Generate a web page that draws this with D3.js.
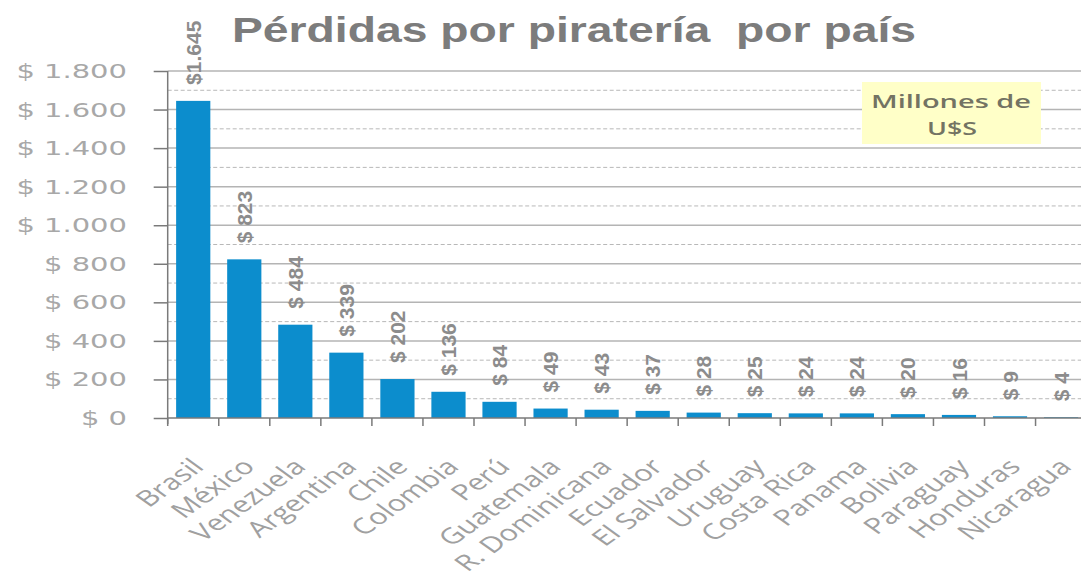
<!DOCTYPE html>
<html>
<head>
<meta charset="utf-8">
<script src="https://cdn.jsdelivr.net/npm/d3@7"></script>
<style>
  html, body { margin: 0; padding: 0; background: #ffffff; }
  svg { display: block; }
</style>
</head>
<body>
<svg id="chart" width="1081" height="574"></svg>
<script>
// ---- DATA ----
const countries = ["Brasil", "México", "Venezuela", "Argentina", "Chile", "Colombia", "Perú",
  "Guatemala", "R. Dominicana", "Ecuador", "El Salvador", "Uruguay", "Costa Rica", "Panama",
  "Bolivia", "Paraguay", "Honduras", "Nicaragua"];
const losses = [1645, 823, 484, 339, 202, 136, 84, 49, 43, 37, 28, 25, 24, 24, 20, 16, 9, 4];
const barLabels = ["$1.645", "$ 823", "$ 484", "$ 339", "$ 202", "$ 136", "$ 84", "$ 49", "$ 43",
  "$ 37", "$ 28", "$ 25", "$ 24", "$ 24", "$ 20", "$ 16", "$ 9", "$ 4"];
const yTickValues = [0, 200, 400, 600, 800, 1000, 1200, 1400, 1600, 1800];
const yTickLabels = ["$ 0", "$ 200", "$ 400", "$ 600", "$ 800", "$ 1.000", "$ 1.200", "$ 1.400", "$ 1.600", "$ 1.800"];
const yMinorValues = [100, 300, 500, 700, 900, 1100, 1300, 1500, 1700];
const titleText = "Pérdidas por piratería  por país";
const noteLines = ["Millones de", "U$S"];

(function () {
// ---- LAYOUT ----
const svg = d3.select("#chart");
const plotLeft = 167.7, plotTop = 71, plotBottom = 418;
const step = 51.05;
const plotRight = plotLeft + step * countries.length;
const viewRight = 1081;

const x = d3.scaleBand().domain(countries).range([plotLeft, plotRight]).paddingInner(0.33).paddingOuter(0.165);
const y = d3.scaleLinear().domain([0, 1800]).range([plotBottom, plotTop]);

// minor dashed gridlines
svg.append("g").selectAll("line").data(yMinorValues).join("line")
  .attr("x1", plotLeft).attr("x2", viewRight)
  .attr("y1", d => y(d)).attr("y2", d => y(d))
  .attr("stroke", "#b8b8b8").attr("stroke-width", 1).attr("stroke-dasharray", "4,2.5");

// major solid gridlines
svg.append("g").selectAll("line").data(yTickValues.filter(d => d > 0)).join("line")
  .attr("x1", plotLeft).attr("x2", viewRight)
  .attr("y1", d => y(d)).attr("y2", d => y(d))
  .attr("stroke", "#b4b4b4").attr("stroke-width", 1.5);

// note box
const noteG = svg.append("g");
noteG.append("rect").attr("x", 862).attr("y", 82).attr("width", 179).attr("height", 62)
  .attr("fill", "#ffffc8");
noteG.append("text").attr("x", 951).attr("y", 108).attr("text-anchor", "middle")
  .attr("font-family", "'Open Sans', sans-serif").attr("font-weight", 600).attr("font-size", 18)
  .attr("fill", "#737363").attr("textLength", 160).attr("lengthAdjust", "spacingAndGlyphs")
  .text(noteLines[0]);
noteG.append("text").attr("x", 952).attr("y", 135).attr("text-anchor", "middle")
  .attr("font-family", "'Open Sans', sans-serif").attr("font-weight", 600).attr("font-size", 18)
  .attr("fill", "#737363").attr("textLength", 50).attr("lengthAdjust", "spacingAndGlyphs")
  .text(noteLines[1]);

// bars
svg.append("g").selectAll("rect").data(countries).join("rect")
  .attr("x", d => x(d)).attr("width", x.bandwidth())
  .attr("y", (d, i) => y(losses[i])).attr("height", (d, i) => y(0) - y(losses[i]))
  .attr("fill", "#0c8dcd");

// bar value labels
svg.append("g").selectAll("text").data(countries).join("text")
  .attr("transform", (d, i) => `translate(${x(d) + x.bandwidth() / 2},${y(losses[i]) - 16}) rotate(-90)`)
  .attr("dy", "0.36em")
  .attr("text-anchor", "start")
  .attr("font-family", "'Liberation Sans', Arial, sans-serif").attr("font-weight", "bold")
  .attr("font-size", 21).attr("fill", "#8c8c8c")
  .text((d, i) => barLabels[i]);

// y axis
const yAxis = d3.axisLeft(y).tickValues(yTickValues).tickSize(14).tickSizeOuter(0)
  .tickFormat((d, i) => yTickLabels[i]);
const yg = svg.append("g").attr("transform", `translate(${plotLeft},0)`).call(yAxis);
yg.select(".domain").remove();
yg.selectAll(".tick line").attr("stroke", "#7a7a7a").attr("stroke-width", 1.5);
yg.selectAll(".tick text").remove();
yg.append("line").attr("x1", 0).attr("x2", 0).attr("y1", plotTop).attr("y2", plotBottom + 6)
  .attr("stroke", "#7a7a7a").attr("stroke-width", 1.5);

svg.append("g").selectAll("text").data(yTickValues).join("text")
  .attr("transform", d => `translate(127,${y(d) + 7}) scale(1.45,1)`)
  .attr("text-anchor", "end")
  .attr("font-family", "'DejaVu Sans', sans-serif").attr("font-size", 20)
  .attr("fill", "#a8a8a8")
  .text((d, i) => yTickLabels[i]);

// x axis line and ticks at category boundaries
svg.append("line").attr("x1", plotLeft).attr("x2", viewRight).attr("y1", plotBottom).attr("y2", plotBottom)
  .attr("stroke", "#7a7a7a").attr("stroke-width", 1.5);
const boundaries = countries.map(d => x(d) - (x.step() - x.bandwidth()) / 2).concat([plotRight]);
svg.append("g").selectAll("line").data(boundaries).join("line")
  .attr("x1", d => d).attr("x2", d => d).attr("y1", plotBottom).attr("y2", plotBottom + 8)
  .attr("stroke", "#7a7a7a").attr("stroke-width", 1.5);

// category labels
svg.append("g").selectAll("text").data(countries).join("text")
  .attr("transform", d => `translate(${x(d) + x.bandwidth() / 2 + 12},468) scale(1.4,1) rotate(-45)`)
  .attr("text-anchor", "end")
  .attr("font-family", "'Open Sans', sans-serif").attr("font-size", 22)
  .attr("fill", "#a0a0a0")
  .text(d => d);

// title
svg.append("text").attr("x", 232).attr("y", 42)
  .attr("font-family", "'Liberation Sans', Arial, sans-serif").attr("font-weight", "bold")
  .attr("font-size", 35).attr("fill", "#7c7c7c")
  .attr("textLength", 684).attr("lengthAdjust", "spacingAndGlyphs")
  .style("white-space", "pre")
  .text(titleText);
})();
</script>
</body>
</html>
